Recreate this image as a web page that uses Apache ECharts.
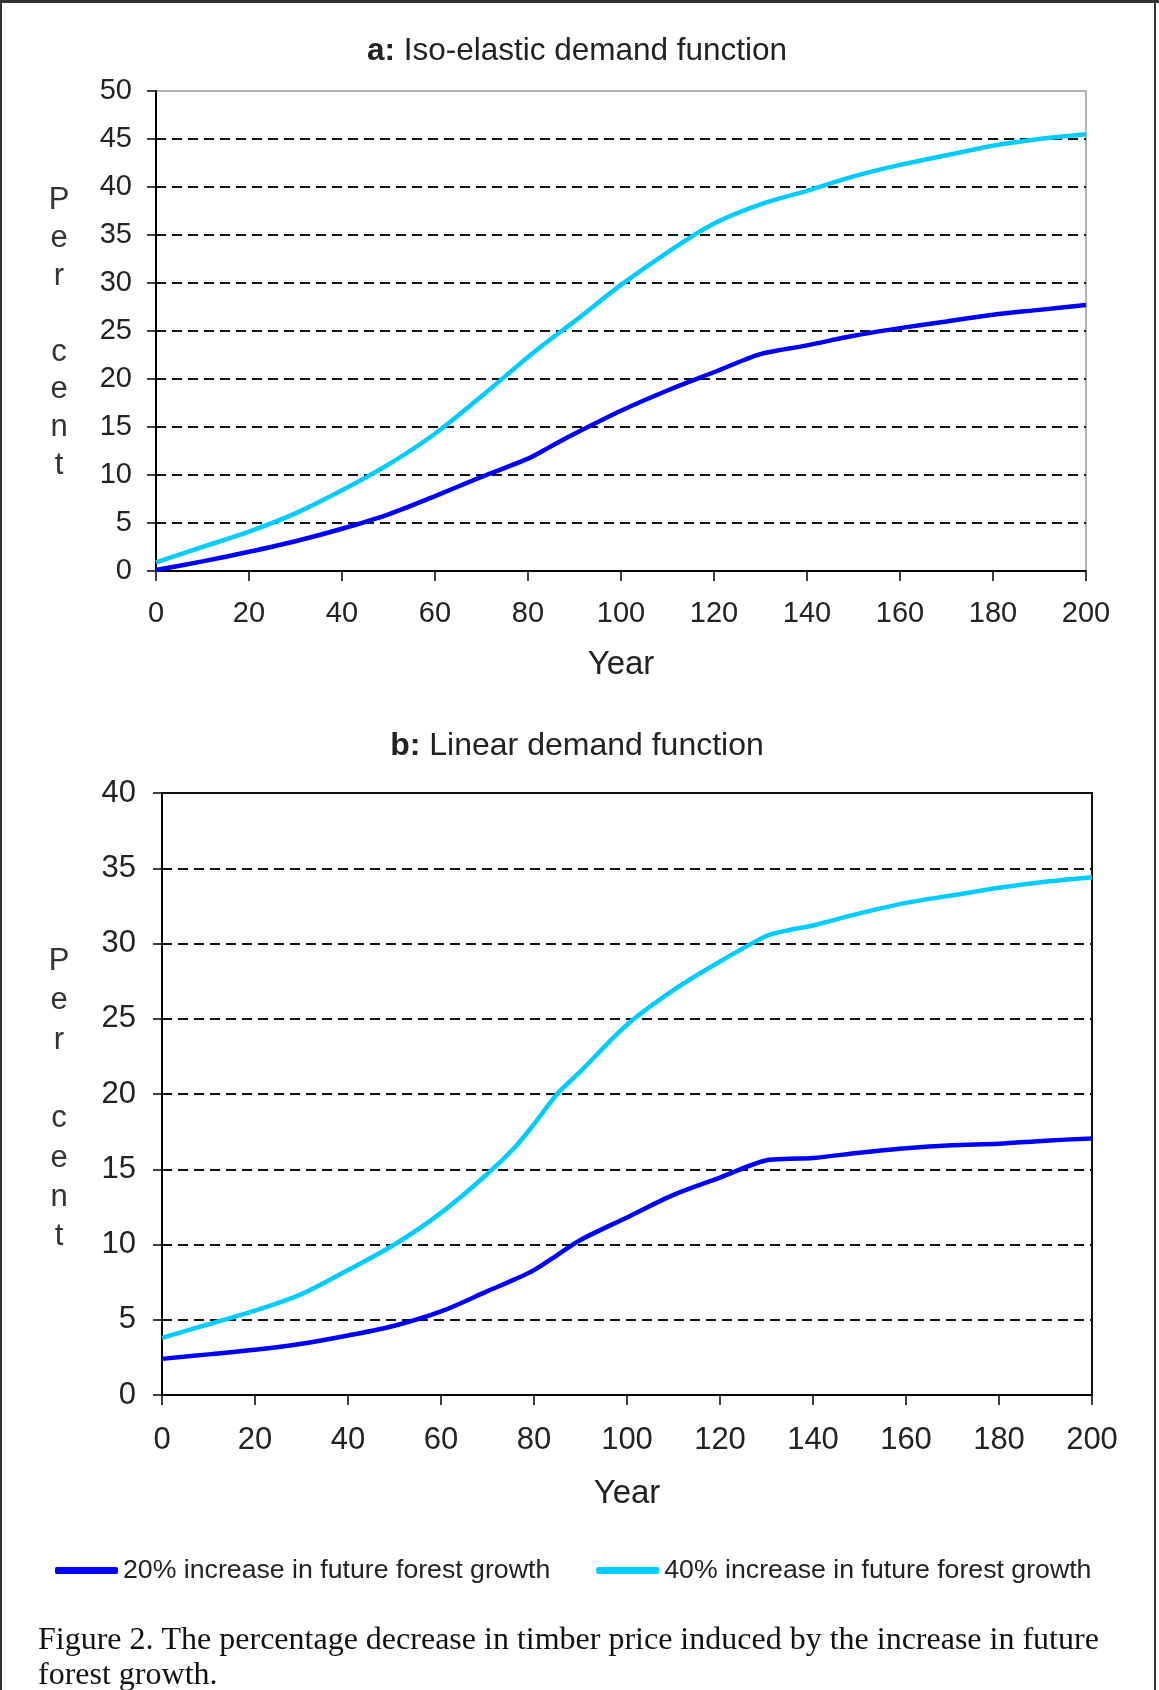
<!DOCTYPE html>
<html>
<head>
<meta charset="utf-8">
<script src="https://cdn.jsdelivr.net/npm/echarts@6/dist/echarts.min.js"></script>
<style>
html,body{margin:0;padding:0;background:#fff;}
#chart{width:1159px;height:1690px;}
</style>
</head>
<body>
<div id="chart"></div>
<script>
// ---- data ----
var yearsA = [0,10,20,30,40,50,60,70,80,85,90,100,110,120,130,140,150,160,170,180,190,200];
var blueA  = [0.1,1.0,2.0,3.1,4.4,5.9,7.8,9.8,11.7,13.0,14.3,16.7,18.8,20.7,22.6,23.5,24.5,25.3,26.0,26.7,27.2,27.7];
var cyanA  = [0.9,2.5,4.1,6.0,8.4,11.1,14.3,18.2,22.3,24.2,26.0,29.8,33.2,36.2,38.2,39.6,41.1,42.3,43.3,44.3,45.0,45.5];

var yearsB = [0,10,20,30,40,50,60,70,76,80,85,90,100,110,120,130,135,140,150,160,170,180,190,200];
var blueB  = [2.4,2.7,3.0,3.4,3.95,4.6,5.55,6.9,7.7,8.3,9.3,10.3,11.8,13.3,14.45,15.6,15.7,15.75,16.1,16.4,16.6,16.7,16.9,17.05];
var cyanB  = [3.8,4.7,5.6,6.7,8.3,10.0,12.1,14.7,16.5,18.0,20.0,21.5,24.6,26.9,28.8,30.5,30.9,31.2,32.0,32.7,33.2,33.7,34.1,34.4];

var seriesNames = ['20% increase in future forest growth', '40% increase in future forest growth'];
var titleA = 'Iso-elastic demand function';
var titleB = 'Linear demand function';
var yName = 'Per cent';
var xName = 'Year';
var caption = 'Figure 2. The percentage decrease in timber price induced by the increase in future\nforest growth.';

function pairs(xs, ys){ return xs.map(function(x,i){ return [x, ys[i]]; }); }
var BLUE = '#0000ff', CYAN = '#00ccff';
var FONT = 'Liberation Sans, Arial, sans-serif';

function xAxisCfg(gi, fs, margin){
  return {
    type:'value', gridIndex:gi, min:0, max:200, interval:20,
    axisLine:{show:true, onZero:false, lineStyle:{color:'#000', width:2}},
    axisTick:{show:true, length:10, inside:false, lineStyle:{color:'#000', width:1.5}},
    axisLabel:{fontSize:fs, color:'#222', margin:margin, fontFamily:FONT},
    splitLine:{show:false}
  };
}
function yAxisCfg(gi, max, fs, margin){
  return {
    type:'value', gridIndex:gi, min:0, max:max, interval:5,
    axisLine:{show:true, onZero:false, lineStyle:{color:'#000', width:2}},
    axisTick:{show:true, length:9, inside:false, lineStyle:{color:'#000', width:1.5}},
    axisLabel:{fontSize:fs, color:'#222', margin:margin, fontFamily:FONT},
    splitLine:{show:true, showMinLine:false, showMaxLine:false,
      lineStyle:{color:'#111', width:2, type:[10,6]}}
  };
}
function lineSeries(name, xi, data, color){
  return {
    name:name, type:'line', xAxisIndex:xi, yAxisIndex:xi, data:data,
    showSymbol:false, smooth:0.3, color:color,
    lineStyle:{color:color, width:4.5}, z:5
  };
}
function letters(s){ return s.split('').join('\n'); }

var chart = echarts.init(document.getElementById('chart'), null, {renderer:'canvas'});
chart.setOption({
  backgroundColor:'#fff',
  animation:false,
  textStyle:{fontFamily:FONT},
  grid:[
    {left:156, top:91, width:930, height:480, show:true, borderColor:'#999', borderWidth:1.5, backgroundColor:'transparent'},
    {left:162, top:793, width:930, height:602, show:true, borderColor:'#111', borderWidth:2, backgroundColor:'transparent'}
  ],
  xAxis:[ xAxisCfg(0, 29, 28), xAxisCfg(1, 31, 30) ],
  yAxis:[ yAxisCfg(0, 50, 29, 24), yAxisCfg(1, 40, 31, 26) ],
  legend:{
    data:seriesNames, left:55, top:1557, icon:'roundRect',
    itemWidth:63, itemHeight:7, itemGap:46, padding:0,
    textStyle:{fontSize:26.7, color:'#222', fontFamily:FONT}
  },
  series:[
    lineSeries(seriesNames[0], 0, pairs(yearsA, blueA), BLUE),
    lineSeries(seriesNames[1], 0, pairs(yearsA, cyanA), CYAN),
    lineSeries(seriesNames[0], 1, pairs(yearsB, blueB), BLUE),
    lineSeries(seriesNames[1], 1, pairs(yearsB, cyanB), CYAN)
  ],
  graphic:[
    {type:'rect', shape:{x:1, y:1, width:1154, height:1730}, style:{fill:'none', stroke:'#333', lineWidth:2}, silent:true},
    {type:'line', shape:{x1:0, y1:1.5, x2:1159, y2:1.5}, style:{stroke:'#333', lineWidth:3}, silent:true},
    {type:'text', x:577, y:51, style:{
      text:'{b|a:} ' + titleA, rich:{b:{fontWeight:'bold', fontSize:31.5, fill:'#222', fontFamily:FONT}},
      fontSize:31.5, fill:'#222', fontFamily:FONT, align:'center', verticalAlign:'middle'}},
    {type:'text', x:577, y:746, style:{
      text:'{b|b:} ' + titleB, rich:{b:{fontWeight:'bold', fontSize:32, fill:'#222', fontFamily:FONT}},
      fontSize:32, fill:'#222', fontFamily:FONT, align:'center', verticalAlign:'middle'}},
    {type:'text', x:59, y:182, style:{text:letters(yName), fontSize:31, lineHeight:37.8, fill:'#333', fontFamily:FONT, align:'center', verticalAlign:'top'}},
    {type:'text', x:59, y:942, style:{text:letters(yName), fontSize:31, lineHeight:39.3, fill:'#333', fontFamily:FONT, align:'center', verticalAlign:'top'}},
    {type:'text', x:621, y:665, style:{text:xName, fontSize:33, fill:'#222', fontFamily:FONT, align:'center', verticalAlign:'middle'}},
    {type:'text', x:627, y:1494, style:{text:xName, fontSize:33, fill:'#222', fontFamily:FONT, align:'center', verticalAlign:'middle'}},
    {type:'text', x:38, y:1623, style:{text:caption, fontSize:32, lineHeight:35, fill:'#111', fontFamily:'Liberation Serif, Times New Roman, serif', align:'left', verticalAlign:'top'}}
  ]
});
</script>
</body>
</html>
